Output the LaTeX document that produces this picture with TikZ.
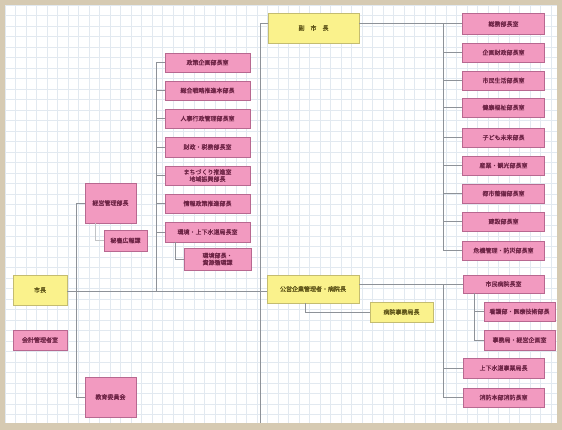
\documentclass[tikz,border=0pt]{standalone}
\usepackage{fontspec}
\newfontfamily\jp[FakeBold=1.2]{Noto Sans CJK JP}
\definecolor{pinkf}{HTML}{F29AC0}
\definecolor{pinkd}{HTML}{B86890}
\definecolor{pinkt}{HTML}{6E2446}
\definecolor{yelf}{HTML}{FAF28C}
\definecolor{yeld}{HTML}{C4BC70}
\definecolor{yelt}{HTML}{5E5418}
\definecolor{beige}{HTML}{D6CAB2}
\definecolor{gridc}{HTML}{E2E9F0}
\definecolor{linec}{HTML}{8E9298}
\tikzset{
  pinkbox/.style={draw=pinkd, line width=0.9pt, fill=pinkf, text=pinkt, inner sep=0pt,
    font=\jp\fontsize{6}{7}\selectfont, align=center},
  yelbox/.style={draw=yeld, line width=0.9pt, fill=yelf, text=yelt, inner sep=0pt,
    font=\jp\fontsize{6}{7}\selectfont, align=center},
  conn/.style={draw=linec, line width=0.7pt},
  faint/.style={draw=linec!55, line width=0.6pt},
  bx/.style 2 args={minimum width=#1pt, minimum height=#2pt}
}
\begin{document}
\begin{tikzpicture}[x=1pt,y=-1pt]
\useasboundingbox (0,0) rectangle (562,430);
\fill[beige] (0,0) rectangle (562,430);
\fill[white] (5,5) rectangle (557,423);
\foreach \gx in {0,...,52}{\draw[gridc, line width=0.4pt] (5+\gx*10.5,5) -- (5+\gx*10.5,423);}
\foreach \gy in {0,...,39}{\draw[gridc, line width=0.4pt] (5,5+\gy*10.5) -- (557,5+\gy*10.5);}

% left
\node[yelbox, bx={54}{30}] (shicho) at (40,290) {市長};
\node[pinkbox, bx={54}{20}] (kaikei) at (40,340) {会計管理者室};
\node[pinkbox, bx={51}{40}] (keiei) at (110.5,203) {経営管理部長};
\node[pinkbox, bx={43}{21}] (hisho) at (125.5,240.5) {秘書広報課};
\node[pinkbox, bx={51}{40}] (kyoiku) at (110.5,397) {教育委員会};

% middle column
\node[pinkbox, bx={85}{19}] (m1) at (207.5,62.5) {政策企画部長室};
\node[pinkbox, bx={85}{19}] (m2) at (207.5,90.5) {総合戦略推進本部長};
\node[pinkbox, bx={85}{19}] (m3) at (207.5,118.5) {人事行政管理部長室};
\node[pinkbox, bx={85}{20}] (m4) at (207.5,147) {財政・税務部長室};
\node[pinkbox, bx={85}{19}] (m5) at (207.5,175.5) {まちづくり推進室\\地域振興部長};
\node[pinkbox, bx={85}{19}] (m6) at (207.5,203.5) {情報政策推進部長};
\node[pinkbox, bx={85}{20}] (m7) at (207.5,232) {環境・上下水道局長室};
\node[pinkbox, bx={67}{22}] (m8) at (217.5,259) {環境部長・\\資源循環課};

% vice mayor and right column
\node[yelbox, bx={91}{30}] (fuku) at (313.5,28) {副\quad 市\quad 長};
\node[pinkbox, bx={82}{21}] (r1) at (503.5,24) {総務部長室};
\node[pinkbox, bx={82}{19}] (r2) at (503.5,52.5) {企画財政部長室};
\node[pinkbox, bx={82}{19}] (r3) at (503.5,80.5) {市民生活部長室};
\node[pinkbox, bx={82}{19}] (r4) at (503.5,107.5) {健康福祉部長室};
\node[pinkbox, bx={82}{19}] (r5) at (503.5,137.5) {子ども未来部長};
\node[pinkbox, bx={82}{19}] (r6) at (503.5,165.5) {産業・観光部長室};
\node[pinkbox, bx={82}{19}] (r7) at (503.5,193.5) {都市整備部長室};
\node[pinkbox, bx={82}{19}] (r8) at (503.5,221.5) {建設部長室};
\node[pinkbox, bx={82}{19}] (r9) at (503.5,250.5) {危機管理・防災部長室};

% enterprise
\node[yelbox, bx={92}{28}] (kigyo) at (313,289) {公営企業管理者・病院長};
\node[yelbox, bx={63}{20}] (jimu) at (401.5,312) {病院事務局長};
\node[pinkbox, bx={81}{18}] (l10) at (503.5,284) {市民病院長室};
\node[pinkbox, bx={71}{19}] (l11) at (519.5,311.5) {看護部・医療技術部長};
\node[pinkbox, bx={71}{20}] (l12) at (519.5,340) {事務局・経営企画室};
\node[pinkbox, bx={81}{20}] (l13) at (503.5,368) {上下水道事業局長};
\node[pinkbox, bx={81}{19}] (l14) at (503.5,397.5) {消防本部消防長室};

% junction coordinates
\coordinate (lv) at (76,291);
\coordinate (mt) at (156,291);
\coordinate (m7b) at (175,242);
\coordinate (kb) at (95,223);
\coordinate (vtop) at (260,23);
\coordinate (vbot) at (260,423);
\coordinate (rt) at (443,23);
\coordinate (lt) at (443,284);
\coordinate (ls) at (474,293);
\coordinate (kj) at (305,303);

% connectors
\draw[conn] (shicho.east |- lv) -- (kigyo.west |- lv);
\draw[conn] (keiei.west) -| (lv);
\draw[conn] (kyoiku.west) -| (lv);
\draw[faint] (kb) |- (hisho.west);
\foreach \n in {m1,m2,m3,m4,m5,m6,m7}{\draw[conn] (\n.west) -| (mt);}
\draw[conn] (m7b) |- (m8.west);
\draw[conn] ([yshift=5pt]fuku.west) -| (vbot);
\draw[conn] ([yshift=5pt]fuku.east) -- (r1.west |- vtop);
\foreach \n in {r2,r3,r4,r5,r6,r7,r8,r9}{\draw[conn] (\n.west) -| (rt);}
\draw[conn] (kigyo.east |- l10.west) -- (l10.west);
\foreach \n in {l13,l14}{\draw[conn] (\n.west) -| (lt);}
\foreach \n in {l11,l12}{\draw[conn] (\n.west) -| (ls);}
\draw[conn] (kj) |- (jimu.west);
\end{tikzpicture}
\end{document}
